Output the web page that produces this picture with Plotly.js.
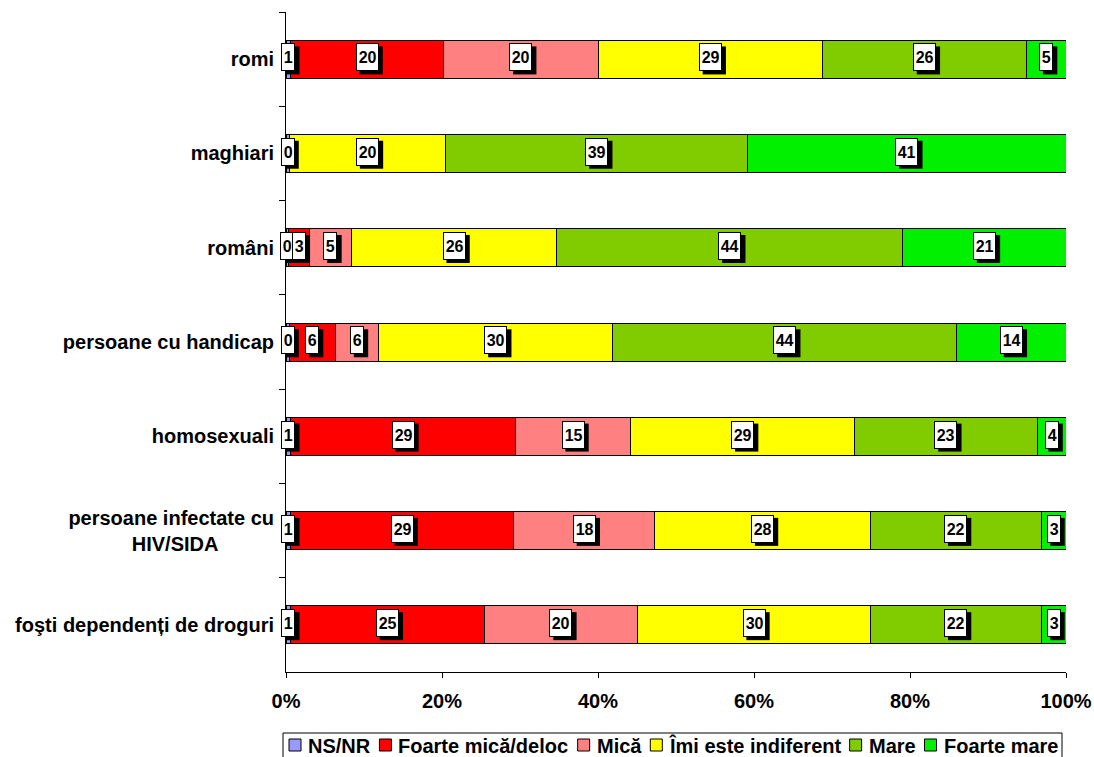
<!DOCTYPE html>
<html>
<head>
<meta charset="utf-8">
<script src="https://cdn.plot.ly/plotly-3.0.1.min.js"></script>
<style>html,body{margin:0;padding:0;background:#fff;}#chart{width:1094px;height:757px;}</style>
</head>
<body>
<div id="chart"></div>
<script>
const categories = ['romi', 'maghiari', 'români', 'persoane cu handicap', 'homosexuali',
  'persoane infectate cu<br>HIV/SIDA' + '\u00a0'.repeat(10), 'foşti dependenți de droguri'];
const seriesNames = ['NS/NR', 'Foarte mică/deloc', 'Mică', 'Îmi este indiferent', 'Mare', 'Foarte mare'];
const nsnr        = [0.6, 0.4, 0.3, 0.4, 0.6, 0.6, 0.6];
const foarteMica  = [19.6, 0, 2.7, 5.9, 28.8, 28.6, 24.8];
const mica        = [19.8, 0, 5.4, 5.6, 14.8, 18.1, 19.7];
const indiferent  = [28.8, 20.1, 26.3, 30.0, 28.7, 27.6, 29.8];
const mare        = [26.1, 38.7, 44.4, 44.1, 23.4, 21.9, 21.9];
const foarteMare  = [5.1, 40.8, 20.9, 14.0, 3.7, 3.2, 3.2];
const colors = ['#9999FF', '#FF0000', '#FF8080', '#FFFF00', '#80CC00', '#00F000'];
const series = [nsnr, foarteMica, mica, indiferent, mare, foarteMare];
const xTicks = [0, 20, 40, 60, 80, 100];

const FONT = 'Arial, "Liberation Sans", sans-serif';

// plot area geometry in pixels
const M = {l: 286, r: 28, t: 12, b: 85};
const W = 1094, H = 757;
const PW = W - M.l - M.r, PH = H - M.t - M.b;
const px2x = p => (p - M.l) / PW;
const px2y = p => (H - M.b - p) / PH;

const traces = series.map((vals, i) => ({
  type: 'bar', orientation: 'h', name: seriesNames[i],
  x: vals, y: categories,
  marker: {color: colors[i], line: {color: '#000', width: 1}},
  textposition: 'none', hoverinfo: 'x+name', showlegend: false
}));

const shapes = [];
const annotations = [];
const cum = categories.map(() => 0);
series.forEach((vals, i) => {
  vals.forEach((v, j) => {
    const center = cum[j] + v / 2;
    cum[j] += v;
    if (v === 0) return; // series absent in this row
    const txt = String(Math.round(v));
    const w = txt.length * 8.9 + 5.5;
    // drop shadow
    shapes.push({type: 'rect', xref: 'x', yref: 'y', xsizemode: 'pixel', ysizemode: 'pixel',
      xanchor: center, yanchor: j, layer: 'above',
      x0: -w / 2 + 4, x1: w / 2 + 4, y0: -15.3, y1: 12.7, fillcolor: '#000', line: {width: 0}});
    // white label box with value
    annotations.push({x: center, y: j, xref: 'x', yref: 'y', showarrow: false,
      text: '<b>' + txt + '</b>', yshift: 1.7, borderpad: 0, borderwidth: 1,
      bordercolor: '#000', bgcolor: '#fff', width: w - 2, height: 26,
      font: {family: FONT, size: 16, color: '#000'}});
  });
});

// custom legend (Excel style) below the plot
const ctx = document.createElement('canvas').getContext('2d');
ctx.font = 'bold 20px ' + FONT;
const textW = seriesNames.map(s => ctx.measureText(s).width);
const legStart = 289, legEnd = 1057, sym = 12, symGap = 6;
const totalText = textW.reduce((a, b) => a + b, 0);
const itemGap = (legEnd - legStart - totalText - seriesNames.length * (sym + symGap)) / (seriesNames.length - 1);
shapes.push({type: 'rect', xref: 'paper', yref: 'paper', x0: px2x(283), x1: px2x(1062),
  y0: px2y(733), y1: px2y(765), fillcolor: '#fff', line: {color: '#000', width: 1}, layer: 'above'});
let xp = legStart;
seriesNames.forEach((name, i) => {
  shapes.push({type: 'rect', xref: 'paper', yref: 'paper', x0: px2x(xp), x1: px2x(xp + sym),
    y0: px2y(751), y1: px2y(739), fillcolor: colors[i], line: {color: '#000', width: 1}, layer: 'above'});
  annotations.push({xref: 'paper', yref: 'paper', x: px2x(xp + sym + symGap), y: px2y(745.5),
    xanchor: 'left', yanchor: 'middle', showarrow: false, borderpad: 0,
    text: '<b>' + name + '</b>', font: {family: FONT, size: 20, color: '#000'}});
  xp += sym + symGap + textW[i] + itemGap;
});

const layout = {
  width: W, height: H,
  margin: Object.assign({autoexpand: false}, M),
  paper_bgcolor: '#fff', plot_bgcolor: '#fff',
  barmode: 'stack', bargap: 0.597,
  font: {family: FONT, size: 20, color: '#000'},
  showlegend: false,
  xaxis: {range: [0, 100], tickvals: xTicks, ticktext: xTicks.map(t => t + '%'),
    showgrid: false, zeroline: false, showline: true, linecolor: '#000', linewidth: 1,
    ticks: 'outside', ticklen: 5, tickcolor: '#000', ticklabelstandoff: 6, automargin: false,
    tickfont: {family: FONT, size: 20, color: '#000', weight: 'bold'}, fixedrange: true},
  yaxis: {type: 'category', autorange: 'reversed', showgrid: false, zeroline: false,
    showline: true, linecolor: '#000', linewidth: 1, ticks: 'outside', ticklen: 6,
    tickcolor: '#000', tickson: 'boundaries', ticklabelstandoff: 7, automargin: false,
    tickfont: {family: FONT, size: 20, color: '#000', weight: 'bold'}, fixedrange: true},
  shapes: shapes,
  annotations: annotations
};

Plotly.newPlot('chart', traces, layout, {displayModeBar: false, staticPlot: true});
</script>
</body>
</html>
